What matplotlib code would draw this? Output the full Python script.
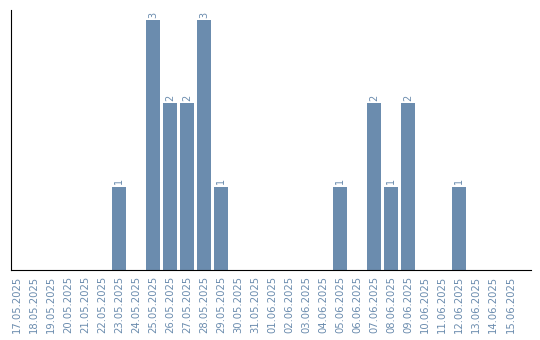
import matplotlib
matplotlib.use('Agg')
import matplotlib.pyplot as plt
import numpy as np

dates = ['17.05.2025', '18.05.2025', '19.05.2025', '20.05.2025', '21.05.2025',
         '22.05.2025', '23.05.2025', '24.05.2025', '25.05.2025', '26.05.2025',
         '27.05.2025', '28.05.2025', '29.05.2025', '30.05.2025', '31.05.2025',
         '01.06.2025', '02.06.2025', '03.06.2025', '04.06.2025', '05.06.2025',
         '06.06.2025', '07.06.2025', '08.06.2025', '09.06.2025', '10.06.2025',
         '11.06.2025', '12.06.2025', '13.06.2025', '14.06.2025', '15.06.2025']
counts = [0, 0, 0, 0, 0, 0, 1, 0, 3, 2, 2, 3, 1, 0, 0,
          0, 0, 0, 0, 1, 0, 2, 1, 2, 0, 0, 1, 0, 0, 0]

cor = '#6b8cae'

fig = plt.figure(figsize=(5.4, 3.4), dpi=100)
ax = fig.add_axes([0.02, 0.206, 0.963, 0.764])

x = np.arange(len(dates))
ax.bar(x, counts, width=0.82, color=cor)
for xi, v in zip(x, counts):
    if v > 0:
        ax.text(xi, v + 0.03, str(v), rotation=90, ha='center', va='bottom',
                fontsize=7, color=cor)

ax.set_xlim(-0.35, 30.2)
ax.set_ylim(0, 3.12)
ax.set_xticks(x)
ax.set_xticklabels(dates, rotation=90, fontsize=7.2, color=cor)
ax.tick_params(axis='x', length=0, pad=4)
ax.set_yticks([])
ax.spines['top'].set_visible(False)
ax.spines['right'].set_visible(False)

fig.savefig('out.png', dpi=100)
